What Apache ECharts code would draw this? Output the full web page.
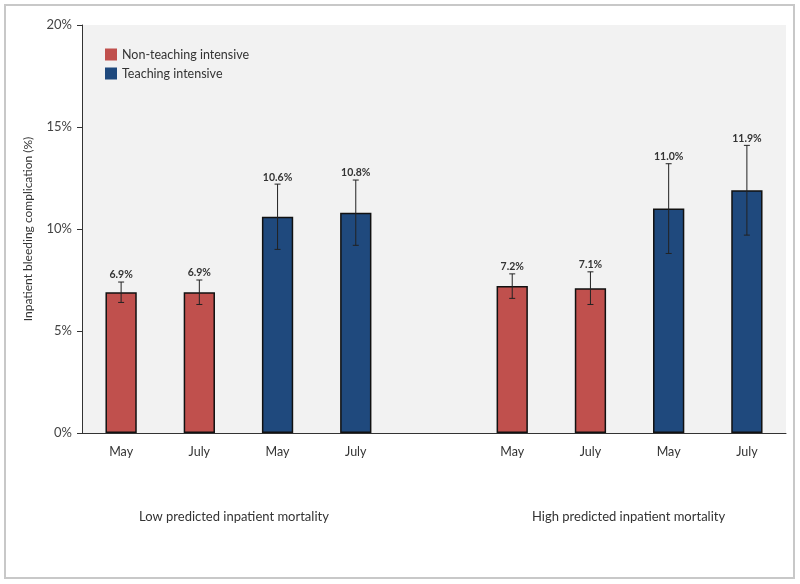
<!DOCTYPE html>
<html>
<head>
<meta charset="utf-8">
<script src="https://cdn.jsdelivr.net/npm/echarts@6/dist/echarts.min.js"></script>
<style>html,body{margin:0;padding:0;background:#fff}#c{width:800px;height:584px}</style>
</head>
<body>
<div id="c"></div>
<script>
const categories = ['May', 'July', 'May', 'July', '', 'May', 'July', 'May', 'July'];
const nonTeaching = [6.9, 6.9, '-', '-', '-', 7.2, 7.1, '-', '-'];
const teaching = ['-', '-', 10.6, 10.8, '-', '-', '-', 11.0, 11.9];
const pointValues = [6.9, 6.9, 10.6, 10.8, null, 7.2, 7.1, 11.0, 11.9];
const errLow = [6.4, 6.3, 9.0, 9.2, null, 6.6, 6.3, 8.8, 9.7];
const errHigh = [7.4, 7.5, 12.2, 12.4, null, 7.8, 7.9, 13.2, 14.1];
const groupLabels = ['Low predicted inpatient mortality', 'High predicted inpatient mortality'];
const seriesNames = ['Non-teaching intensive', 'Teaching intensive'];
const yAxisTitle = 'Inpatient bleeding complication (%)';

const FONT = 'Lato, "Open Sans", sans-serif';
const errData = [];
categories.forEach((c, i) => {
  if (errLow[i] != null) errData.push([i, errLow[i], errHigh[i], pointValues[i]]);
});

const chart = echarts.init(document.getElementById('c'));
chart.setOption({
  backgroundColor: '#ffffff',
  animation: false,
  textStyle: { fontFamily: FONT },
  grid: {
    left: 82, right: 14, top: 25, bottom: 151,
    show: true, backgroundColor: '#f2f2f2', borderWidth: 0
  },
  legend: {
    orient: 'vertical', left: 100, top: 43,
    itemWidth: 12, itemHeight: 12, itemGap: 6,
    data: seriesNames,
    itemStyle: { borderWidth: 0 },
    textStyle: { fontSize: 12.5, color: '#333', fontFamily: FONT },
    icon: 'rect'
  },
  xAxis: {
    type: 'category', data: categories,
    axisLine: { show: true, lineStyle: { color: '#333', width: 1 } },
    axisTick: { show: false },
    axisLabel: { color: '#333', fontSize: 12.5, margin: 12, fontFamily: FONT }
  },
  yAxis: {
    type: 'value', min: 0, max: 20, interval: 5,
    name: yAxisTitle, nameLocation: 'middle', nameGap: 48,
    nameTextStyle: { fontSize: 12, color: '#333', fontFamily: FONT },
    axisLine: { show: true, lineStyle: { color: '#333', width: 1 } },
    axisTick: { show: true, length: 5, lineStyle: { color: '#333' } },
    splitLine: { show: false },
    axisLabel: { formatter: '{value}%', color: '#444', fontSize: 13, margin: 10, fontFamily: FONT }
  },
  graphic: [
    { type: 'rect', shape: { x: 5, y: 5, width: 789, height: 573 }, style: { fill: 'none', stroke: '#c8c8c8', lineWidth: 2 }, silent: true, z: -1 },
    { type: 'text', left: 235 - 96, top: 510, style: { text: groupLabels[0], fontSize: 13, fill: '#333', fontFamily: FONT } },
    { type: 'text', left: 629 - 97, top: 510, style: { text: groupLabels[1], fontSize: 13, fill: '#333', fontFamily: FONT } }
  ],
  series: [
    {
      name: seriesNames[0], type: 'bar', stack: 'g', data: nonTeaching, barWidth: '40%',
      itemStyle: { color: '#c0504d', borderColor: '#111', borderWidth: 1.5 }
    },
    {
      name: seriesNames[1], type: 'bar', stack: 'g', data: teaching, barWidth: '40%',
      itemStyle: { color: '#1f497d', borderColor: '#111', borderWidth: 1.5 }
    },
    {
      type: 'custom', name: 'err', data: errData, z: 10,
      renderItem: function (params, api) {
        const x = api.value(0);
        const lo = api.coord([x, api.value(1)]);
        const hi = api.coord([x, api.value(2)]);
        const v = api.value(3);
        const w = 3;
        const style = { stroke: '#222', lineWidth: 1 };
        return {
          type: 'group',
          children: [
            { type: 'line', shape: { x1: lo[0], y1: lo[1], x2: hi[0], y2: hi[1] }, style: style },
            { type: 'line', shape: { x1: lo[0] - w, y1: lo[1], x2: lo[0] + w, y2: lo[1] }, style: style },
            { type: 'line', shape: { x1: hi[0] - w, y1: hi[1], x2: hi[0] + w, y2: hi[1] }, style: style },
            { type: 'text', x: hi[0], y: hi[1] - 7,
              style: { text: v.toFixed(1) + '%', textAlign: 'center', textVerticalAlign: 'middle', fontSize: 10.5, fontWeight: 'bold', fill: '#333', fontFamily: FONT } }
          ]
        };
      }
    }
  ]
});
</script>
</body>
</html>
